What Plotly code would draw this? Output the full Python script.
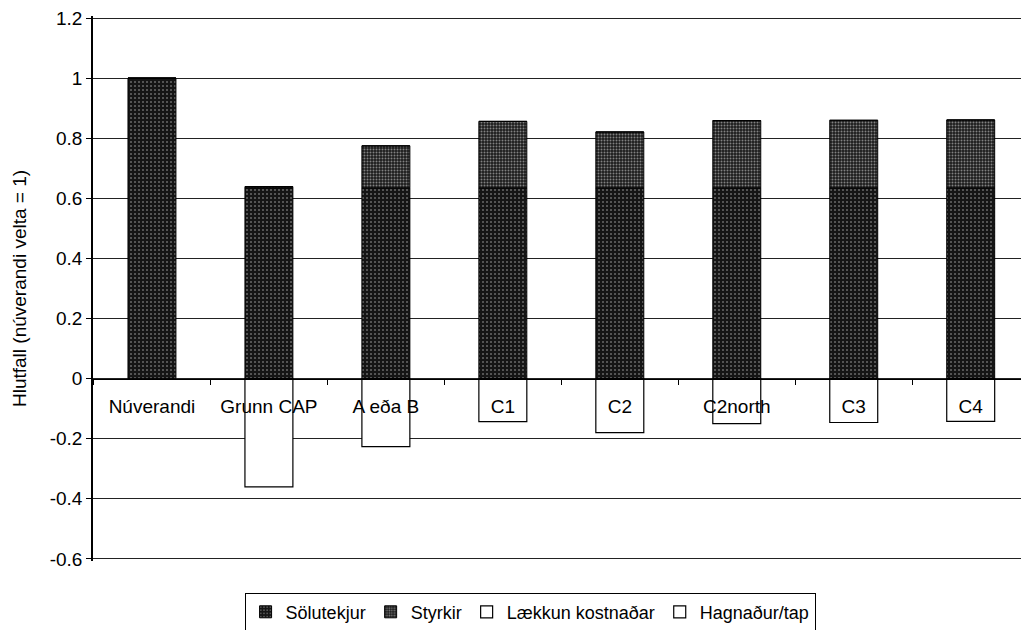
import plotly.graph_objects as go

categories = ["Núverandi", "Grunn CAP", "A eða B", "C1", "C2", "C2north", "C3", "C4"]
solutekjur = [1.0, 0.635, 0.635, 0.635, 0.635, 0.635, 0.635, 0.635]
styrkir = [0.0, 0.004, 0.14, 0.221, 0.186, 0.224, 0.225, 0.226]
laekkun_kostnadar = [0.0, -0.36, -0.226, -0.143, -0.18, -0.15, -0.146, -0.142]
hagnadur_tap = [0.0, 0.0, 0.0, 0.0, 0.0, 0.0, 0.0, 0.0]

y_ticks = [-0.6, -0.4, -0.2, 0, 0.2, 0.4, 0.6, 0.8, 1, 1.2]
y_ticktext = ["-0.6", "-0.4", "-0.2", "0", "0.2", "0.4", "0.6", "0.8", "1", "1.2"]

FONT = "Liberation Sans, Arial, sans-serif"
FS = 19
BW = 0.41

fig = go.Figure()
fig.add_trace(go.Bar(
    name="Sölutekjur", x=categories, y=solutekjur, width=BW,
    marker=dict(color="#111111", line=dict(color="black", width=1),
                pattern=dict(shape=".", bgcolor="#151515", fgcolor="#bdbdbd",
                             size=4, solidity=0.2)),
))
fig.add_trace(go.Bar(
    name="Styrkir", x=categories, y=styrkir, width=BW,
    marker=dict(color="#222222", line=dict(color="black", width=1),
                pattern=dict(shape=".", bgcolor="#1c1c1c", fgcolor="#e6e6e6",
                             size=3, solidity=0.35)),
))
fig.add_trace(go.Bar(
    name="Lækkun kostnaðar", x=categories, y=laekkun_kostnadar, width=BW,
    marker=dict(color="white", line=dict(color="black", width=1.2)),
))
fig.add_trace(go.Bar(
    name="Hagnaður/tap", x=categories, y=hagnadur_tap, width=BW,
    marker=dict(color="white", line=dict(color="black", width=1.2)),
))

fig.update_layout(
    width=1021, height=630,
    margin=dict(l=93, r=0, t=16, b=69, autoexpand=False),
    paper_bgcolor="white", plot_bgcolor="white",
    barmode="relative",
    font=dict(family=FONT, size=FS, color="black"),
    showlegend=True,
    legend=dict(
        orientation="h", x=0.471, xanchor="center", y=-0.058, yanchor="top",
        bordercolor="black", borderwidth=1, bgcolor="white",
        font=dict(size=18), traceorder="normal",
        itemwidth=30, tracegroupgap=0,
    ),
    xaxis=dict(
        range=[-0.504, 7.43],
        anchor="free", position=0.607 / 1.814,
        showline=True, linecolor="black", linewidth=1.2,
        ticks="outside", tickson="boundaries", ticklen=5, tickcolor="black",
        ticklabelstandoff=10,
        showgrid=False, zeroline=False,
        tickfont=dict(size=FS),
    ),
    yaxis=dict(
        range=[-0.607, 1.207],
        tickvals=y_ticks, ticktext=y_ticktext,
        showline=True, linecolor="black", linewidth=1.5,
        ticks="outside", ticklen=5, tickcolor="black",
        showgrid=True, gridcolor="#222222", gridwidth=1,
        zeroline=False,
        title=dict(text="Hlutfall (núverandi velta = 1)", font=dict(size=FS), standoff=18),
        tickfont=dict(size=FS),
    ),
)

fig.write_html("out.html", post_script="document.body.style.margin='0';",
               config={"displayModeBar": False})
